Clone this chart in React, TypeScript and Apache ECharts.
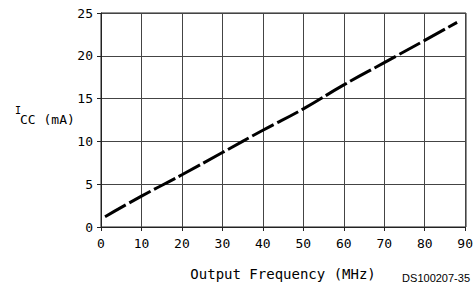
import React, { useEffect, useRef } from "react";
import * as echarts from "echarts";

const xTicks = [0, 10, 20, 30, 40, 50, 60, 70, 80, 90];
const yTicks = [0, 5, 10, 15, 20, 25];
const freqMHz = [1, 10, 20, 30, 40, 50, 60, 70, 80, 88];
const iccMA = [1.2, 3.6, 6.1, 8.7, 11.3, 13.8, 16.6, 19.2, 21.8, 23.9];

export default function App() {
  const ref = useRef<HTMLDivElement>(null);
  useEffect(() => {
    const chart = echarts.init(ref.current!, null, { renderer: "svg" });
    const mono = "DejaVu Sans Mono";
    chart.setOption({
      animation: false,
      backgroundColor: "#ffffff",
      grid: { left: 101, right: 10, top: 13, bottom: 70, containLabel: false },
      xAxis: {
        type: "value",
        min: xTicks[0],
        max: xTicks[xTicks.length - 1],
        interval: 10,
        name: "Output Frequency (MHz)",
        nameLocation: "middle",
        nameGap: 40,
        nameTextStyle: { fontFamily: mono, fontSize: 14, color: "#000" },
        axisLine: { show: true, lineStyle: { color: "#222", width: 1 } },
        axisTick: { show: true, length: 4, lineStyle: { color: "#222" } },
        axisLabel: { fontFamily: mono, fontSize: 13, color: "#000", margin: 10 },
        splitLine: { show: true, lineStyle: { color: "#444", width: 1 } },
      },
      yAxis: {
        type: "value",
        min: yTicks[0],
        max: yTicks[yTicks.length - 1],
        interval: 5,
        axisLine: { show: true, lineStyle: { color: "#222", width: 1 } },
        axisTick: { show: true, length: 4, lineStyle: { color: "#222" } },
        axisLabel: { fontFamily: mono, fontSize: 13, color: "#000", margin: 8 },
        splitLine: { show: true, lineStyle: { color: "#444", width: 1 } },
      },
      graphic: [
        {
          type: "rect",
          shape: { x: 101, y: 13, width: 365, height: 214 },
          style: { fill: "none", stroke: "#222", lineWidth: 1 },
          silent: true,
        },
        {
          type: "text",
          x: 15,
          y: 105,
          style: { text: "I", fontFamily: mono, fontSize: 10, fill: "#000" },
        },
        {
          type: "text",
          x: 20,
          y: 113,
          style: { text: "CC (mA)", fontFamily: mono, fontSize: 13, fill: "#000" },
        },
        {
          type: "text",
          x: 470,
          y: 272,
          style: {
            text: "DS100207-35",
            fontFamily: "Liberation Sans",
            fontSize: 11,
            fill: "#000",
            align: "right",
          },
        },
      ],
      series: [
        {
          type: "line",
          data: freqMHz.map((f, i) => [f, iccMA[i]]),
          showSymbol: false,
          smooth: true,
          lineStyle: { color: "#000", width: 3, type: [24, 4] },
        },
      ],
    });
    return () => chart.dispose();
  }, []);
  return (
    <div style={{ position: "fixed", left: 0, top: 0 }}>
      <div ref={ref} style={{ width: 476, height: 297 }} />
    </div>
  );
}
